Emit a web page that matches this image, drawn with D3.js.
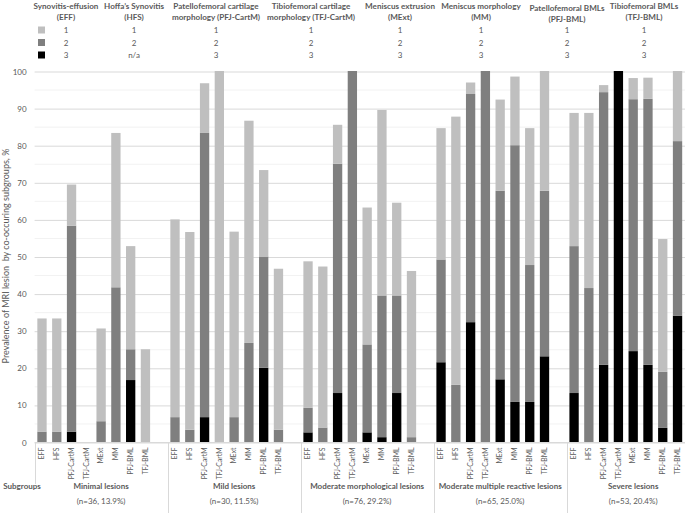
<!DOCTYPE html>
<html><head><meta charset="utf-8">
<script src="https://cdn.jsdelivr.net/npm/d3@7"></script>
<style>
html,body{margin:0;padding:0;background:#fff;}
text{font-family:Lato,"Open Sans",sans-serif;fill:#595959;}
</style></head>
<body><svg id="c" width="685" height="513"></svg>
<script>
// ---------- DATA ----------
const categories = ["EFF","HFS","PFJ-CartM","TFJ-CartM","MExt","MM","PFJ-BML","TFJ-BML"];
const subgroups = ["Minimal lesions","Mild lesions","Moderate morphological lesions","Moderate multiple reactive lesions","Severe lesions"];
const subgroupN = ["(n=36, 13.9%)","(n=30, 11.5%)","(n=76, 29.2%)","(n=65, 25.0%)","(n=53, 20.4%)"];
// prevalence (%) per grade, one row per subgroup, columns follow categories
const grade3 = [
  [0, 0, 2.8, 0, 0, 0, 16.7, 0],
  [0, 0, 6.7, 0, 0, 0, 20.0, 0],
  [2.6, 0, 13.2, 0, 2.6, 1.3, 13.2, 0],
  [21.5, 0, 32.3, 0, 16.9, 10.8, 10.8, 23.1],
  [13.2, 0, 20.8, 100, 24.5, 20.8, 3.8, 34.0]
];
const grade2 = [
  [2.8, 2.8, 55.5, 0, 5.6, 41.7, 8.3, 0],
  [6.7, 3.3, 76.6, 0, 6.7, 26.7, 30.0, 3.3],
  [6.6, 3.9, 61.8, 100, 23.7, 38.2, 26.3, 1.3],
  [27.7, 15.4, 61.5, 100, 50.8, 69.2, 36.9, 44.6],
  [39.6, 41.5, 73.5, 0, 67.9, 71.7, 15.1, 47.1]
];
const grade1 = [
  [30.5, 30.5, 11.1, 0, 25.0, 41.6, 27.8, 25.0],
  [53.3, 53.3, 13.4, 100, 50.0, 59.9, 23.3, 43.4],
  [39.5, 43.4, 10.5, 0, 36.9, 50.0, 25.0, 44.8],
  [35.4, 72.3, 3.1, 0, 24.6, 18.5, 36.9, 32.3],
  [35.9, 47.2, 1.9, 0, 5.7, 5.7, 35.8, 18.9]
];
const yTicks = [0,10,20,30,40,50,60,70,80,90,100];
const yMinorTicks = [5,15,25,35,45,55,65,75,85,95];
const gradeKeys = ["g3","g2","g1"];
const legendHeaders = [
  ["Synovitis-effusion","(EFF)"],
  ["Hoffa\u2019s Synovitis","(HFS)"],
  ["Patellofemoral cartilage","morphology (PFJ-CartM)"],
  ["Tibiofemoral cartilage","morphology (TFJ-CartM)"],
  ["Meniscus extrusion","(MExt)"],
  ["Meniscus morphology","(MM)"],
  ["Patellofemoral BMLs","(PFJ-BML)"],
  ["Tibiofemoral BMLs","(TFJ-BML)"]
];
const legendGrades = [
  ["1","2","3"],["1","2","n/a"],["1","2","3"],["1","2","3"],
  ["1","2","3"],["1","2","3"],["1","2","3"],["1","2","3"]
];
const yTitle = "Prevalence of MRI lesion  by co-occuring subgroups, %";

// ---------- LAYOUT ----------
const colors = {g1:"#bfbfbf", g2:"#7f7f7f", g3:"#000000"};
const legendColX = [66, 134, 216, 311, 400, 481, 567, 644];
const legendHeaderDY = [0,0,0,0,0,0,2,0];
const legendRowY = [30, 42.5, 55];
const plotLeft = 34.6, slotW = 14.78, plotTop = 71, plotBottom = 442;
const hdrFont = 8.1, valFont = 8, catFont = 6.8, tickFont = 8, grpFont = 8, titleFont = 9;

const svg = d3.select("#c");

const slots = [];
subgroups.forEach((s,gi)=>{ categories.forEach(c=>slots.push(gi+"|"+c)); slots.push(gi+"|gap"); });
const x = d3.scaleBand().domain(slots).range([plotLeft, plotLeft + slots.length*slotW])
  .paddingInner(0.37).paddingOuter(0.185);
const y = d3.scaleLinear().domain([0,100]).range([plotBottom, plotTop]);
const plotRight = plotLeft + slots.length*slotW;

// minor gridlines
svg.append("g").selectAll("line").data(yMinorTicks).join("line")
  .attr("x1", plotLeft).attr("x2", plotRight)
  .attr("y1", d=>y(d)+0.5).attr("y2", d=>y(d)+0.5)
  .attr("stroke", "#f2f2f2").attr("stroke-width", 1);

// y axis with major gridlines
const yAxis = svg.append("g").attr("transform", `translate(${plotLeft},0.5)`)
  .call(d3.axisLeft(y).tickValues(yTicks).tickSizeInner(-(plotRight-plotLeft)).tickSizeOuter(0).tickPadding(8));
yAxis.select(".domain").remove();
yAxis.selectAll(".tick line").attr("stroke", "#d9d9d9");
yAxis.selectAll(".tick text").attr("font-size", tickFont).attr("fill", "#595959").style("font-family","Lato");

// bars
const rows = [];
subgroups.forEach((s,gi)=>categories.forEach((c,ci)=>rows.push({key:gi+"|"+c, g3:grade3[gi][ci], g2:grade2[gi][ci], g1:grade1[gi][ci]})));
const stacked = d3.stack().keys(gradeKeys)(rows);
svg.append("g").selectAll("g").data(stacked).join("g")
  .attr("fill", d=>colors[d.key])
  .selectAll("rect").data(d=>d).join("rect")
  .attr("x", d=>x(d.data.key)).attr("width", x.bandwidth())
  .attr("y", d=>y(d[1])).attr("height", d=>Math.max(0, y(d[0])-y(d[1])));

// category axis
const xAxis = svg.append("g").attr("transform", `translate(0,${plotBottom+0.5})`)
  .call(d3.axisBottom(x).tickSize(0).tickFormat(d=>{const c=d.split("|")[1]; return c==="gap"?"":c;}));
xAxis.select(".domain").attr("stroke", "#d9d9d9").attr("d", `M${plotLeft},0H${plotRight}`);
xAxis.selectAll(".tick text")
  .attr("transform","rotate(-90)").attr("text-anchor","end")
  .attr("x", -5).attr("y", 0).attr("dy","0.32em")
  .attr("font-size", catFont).attr("fill","#595959").style("font-family","Lato");

// group separators
const sep = svg.append("g").attr("stroke","#d9d9d9").attr("stroke-width",1);
sep.append("line").attr("x1", Math.round(plotLeft)+0.5).attr("x2", Math.round(plotLeft)+0.5).attr("y1", plotBottom).attr("y2", 484);
subgroups.forEach((s,gi)=>{
  if (gi===0) return;
  const bx = Math.round(x(gi+"|"+categories[0]) - (x.step()-x.bandwidth())/2) + 0.5;
  sep.append("line").attr("x1", bx).attr("x2", bx).attr("y1", plotBottom).attr("y2", 513);
});

// group labels
const gl = svg.append("g").attr("text-anchor","middle").attr("font-size", grpFont).attr("font-weight","bold");
subgroups.forEach((s,gi)=>{
  const a = x(gi+"|"+categories[0]) - (x.step()-x.bandwidth())/2;
  const cx = a + 9*x.step()/2;
  gl.append("text").attr("x", cx).attr("y", 489).text(s);
  gl.append("text").attr("x", cx).attr("y", 504).attr("font-weight","normal").text(subgroupN[gi]);
});
svg.append("text").attr("x", 22).attr("y", 489).attr("text-anchor","middle")
  .attr("font-size", grpFont).attr("font-weight","bold").text("Subgroups");

// y title
svg.append("text").attr("transform", "translate(9,256) rotate(-90)")
  .attr("text-anchor","middle").attr("font-size", titleFont)
  .style("white-space","pre").attr("xml:space","preserve").text(yTitle);

// legend table
const lg = svg.append("g").attr("text-anchor","middle");
legendHeaders.forEach((h,i)=>{
  lg.append("text").attr("x", legendColX[i]).attr("y", 9 + legendHeaderDY[i]).attr("font-size", hdrFont).attr("font-weight","bold").text(h[0]);
  lg.append("text").attr("x", legendColX[i]).attr("y", 20 + legendHeaderDY[i]).attr("font-size", hdrFont).attr("font-weight","bold").text(h[1]);
  legendGrades[i].forEach((g,r)=>{
    lg.append("text").attr("x", legendColX[i]).attr("y", legendRowY[r]+3).attr("font-size", valFont).text(g);
  });
});
svg.append("g").selectAll("rect").data(gradeKeys.slice().reverse()).join("rect")
  .attr("x", 38).attr("y", (d,r)=>legendRowY[r]-3.5).attr("width",7).attr("height",7)
  .attr("fill", d=>colors[d]);
</script></body></html>
